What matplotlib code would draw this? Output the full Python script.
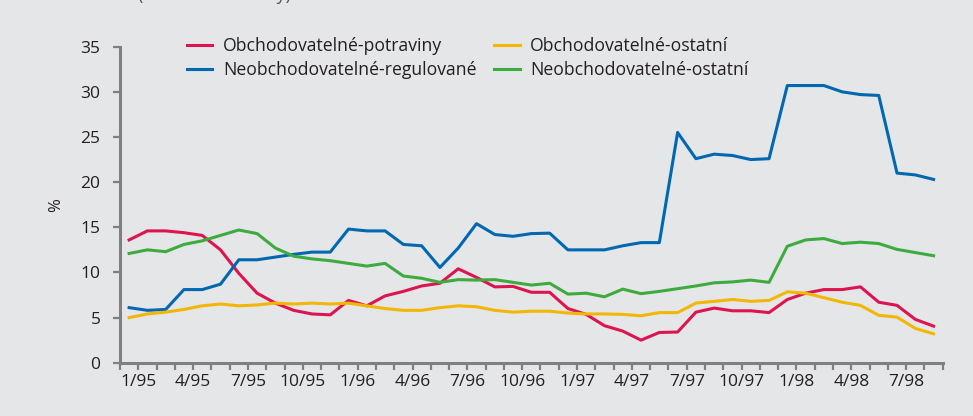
import matplotlib
matplotlib.use("Agg")
import matplotlib.pyplot as plt
import numpy as np

plt.rcParams['font.family'] = ['Open Sans', 'DejaVu Sans']

# monthly values, 45 months
potraviny = [13.6, 14.6, 14.6, 14.4, 14.1, 12.5, 9.9, 7.7, 6.6, 5.8, 5.4, 5.3,
             6.9, 6.3, 7.4, 7.9, 8.5, 8.8, 10.4, 9.45, 8.4, 8.45, 7.8, 7.8,
             6.0, 5.35, 4.1, 3.5, 2.5, 3.35, 3.4, 5.6, 6.05, 5.75, 5.75, 5.55,
             7.0, 7.7, 8.1, 8.1, 8.4, 6.7, 6.35, 4.8, 4.05]
ostatni_obch = [5.0, 5.4, 5.6, 5.9, 6.3, 6.5, 6.3, 6.4, 6.6, 6.5, 6.6, 6.5,
                6.6, 6.3, 6.0, 5.8, 5.8, 6.1, 6.3, 6.2, 5.8, 5.6, 5.7, 5.7,
                5.5, 5.4, 5.4, 5.35, 5.2, 5.55, 5.55, 6.6, 6.8, 7.0, 6.8, 6.9,
                7.85, 7.7, 7.2, 6.7, 6.35, 5.25, 5.05, 3.8, 3.2]
regulovane = [6.1, 5.8, 5.9, 8.1, 8.1, 8.7, 11.4, 11.4, 11.7, 12.0, 12.25, 12.25,
              14.8, 14.6, 14.6, 13.1, 12.95, 10.55, 12.7, 15.4, 14.2, 14.0, 14.3, 14.35,
              12.5, 12.5, 12.5, 12.95, 13.3, 13.3, 25.5, 22.6, 23.1, 22.95, 22.5, 22.6,
              30.7, 30.7, 30.7, 30.0, 29.7, 29.6, 21.0, 20.8, 20.3]
ostatni_neobch = [12.1, 12.5, 12.3, 13.1, 13.5, 14.1, 14.7, 14.3, 12.7, 11.8, 11.5, 11.3,
                  11.0, 10.7, 11.0, 9.6, 9.35, 8.9, 9.2, 9.15, 9.2, 8.9, 8.6, 8.8,
                  7.6, 7.7, 7.3, 8.15, 7.65, 7.9, 8.2, 8.5, 8.85, 8.95, 9.15, 8.9,
                  12.9, 13.6, 13.75, 13.2, 13.35, 13.2, 12.55, 12.2, 11.85]

tick_labels = ["1/95", "4/95", "7/95", "10/95", "1/96", "4/96", "7/96", "10/96",
               "1/97", "4/97", "7/97", "10/97", "1/98", "4/98", "7/98"]

bg = "#e5e6e8"
axis_col = "#808080"
text_col = "#231f20"

fig = plt.figure(figsize=(9.73, 4.16), dpi=100, facecolor=bg)
ax = fig.add_axes([0.1233, 0.1281, 0.9689 - 0.1233, 0.8877 - 0.1281])
ax.set_facecolor(bg)

x = np.arange(len(potraviny)) + 0.5
lw = 2.2
ax.plot(x, potraviny, color="#dc1450", lw=lw, label="Obchodovatelné-potraviny")
ax.plot(x, regulovane, color="#0068b0", lw=lw, label="Neobchodovatelné-regulované")
ax.plot(x, ostatni_obch, color="#f2b705", lw=lw, label="Obchodovatelné-ostatní")
ax.plot(x, ostatni_neobch, color="#3dab3d", lw=lw, label="Neobchodovatelné-ostatní")

ax.set_xlim(0, len(potraviny))
ax.set_ylim(0, 35)
ax.set_yticks(np.arange(0, 36, 5))
ax.set_xticks(np.arange(1, 1 + 3 * len(tick_labels), 3))
ax.set_xticklabels(tick_labels)
ax.set_xticks(np.arange(0, len(potraviny) + 1), minor=True)

for s in ["top", "right"]:
    ax.spines[s].set_visible(False)
for s in ["left", "bottom"]:
    ax.spines[s].set_color(axis_col)
    ax.spines[s].set_linewidth(2.2)

ax.tick_params(axis="both", which="both", colors=axis_col, width=1.6,
               length=5, labelcolor=text_col, labelsize=12.5)
ax.tick_params(axis="x", pad=3)
ax.tick_params(axis="y", pad=9)
ax.set_ylabel("%", color=text_col, fontsize=12, labelpad=12)

leg = ax.legend(ncol=2, frameon=False, loc="upper left",
                bbox_to_anchor=(0.062, 1.08), fontsize=12.7,
                handlelength=1.45, handletextpad=0.6, columnspacing=1.0,
                labelspacing=0.32)
for t in leg.get_texts():
    t.set_color(text_col)

fig.text(0.142, 1.0, "(meziroční změny)", fontsize=13, color="#555555",
         va="baseline", ha="left")

fig.savefig("out.png", dpi=100, facecolor=bg)
